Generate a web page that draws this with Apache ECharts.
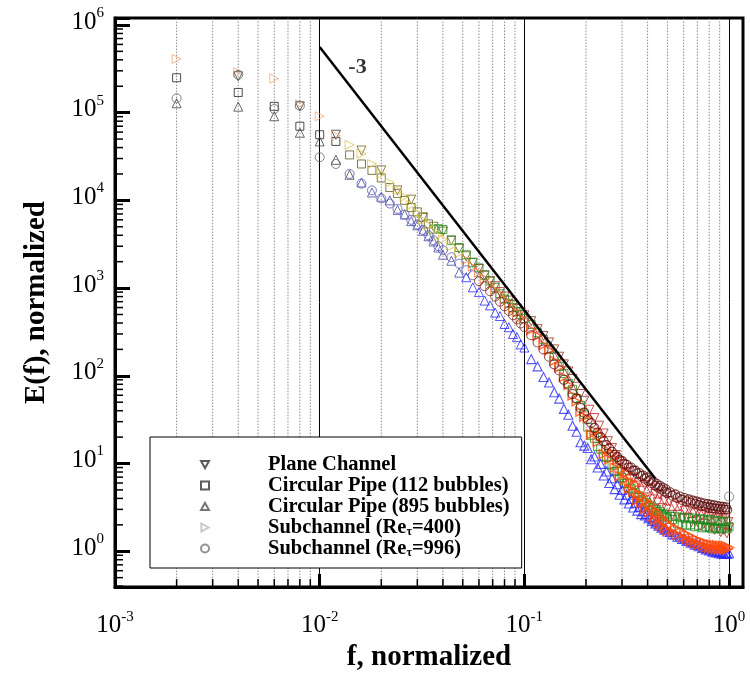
<!DOCTYPE html>
<html><head><meta charset="utf-8">
<script src="https://cdn.jsdelivr.net/npm/echarts@6/dist/echarts.min.js"></script>
<style>html,body{margin:0;padding:0;background:#fff}#c{width:750px;height:677px}</style>
</head><body><div id="c"></div>
<script>
// ---------------- data ----------------
const seriesNames = ['Plane Channel', 'Circular Pipe (112 bubbles)', 'Circular Pipe (895 bubbles)', 'Subchannel (Reτ=400)', 'Subchannel (Reτ=996)'];

// shared frequency grid (normalized f) for the pipe and subchannel data
const freq = [
  0.002,0.004,0.006,0.008,0.010,0.012,0.014,0.016,0.018,0.020,
  0.022,0.024,0.026,0.028,0.030,0.032,0.034,0.036,0.038,0.040,
  0.044,0.048,0.052,0.056,0.060,0.064,0.068,0.072,0.076,0.080,
  0.084,0.088,0.092,0.096,0.100,0.108,0.116,0.124,0.132,0.140,
  0.148,0.156,0.164,0.172,0.180,0.188,0.196,
  0.204,0.212,0.220,0.228,0.236,0.244,0.252,0.260,0.268,0.276,
  0.284,0.292,0.300,0.308,0.316,0.324,0.332,0.340,0.348,0.356,
  0.364,0.372,0.380,0.388,0.396,0.404,0.412,0.420,0.428,0.436,
  0.444,0.452,0.460,0.468,0.476,0.484,0.492,0.500,0.515,0.530,
  0.545,0.560,0.575,0.590,0.605,0.620,0.635,0.650,0.665,0.680,
  0.695,0.710,0.725,0.740,0.755,0.770,0.785,0.800,0.815,0.830,
  0.845,0.860,0.875,0.890,0.905,0.920,0.935,0.950,0.965,0.980,
  1.000
];
const pipe112 = [
  2.5e5,1.7e5,1.18e5,7.0e4,5.6e4,4.7e4,3.3e4,2.6e4,2.2e4,1.8e4,
  1.4e4,1.2e4,1.0e4,8.3e3,7.4e3,6.4e3,5.4e3,4.7e3,4.75e3,4.65e3,
  3.5e3,2.9e3,2.4e3,1.95e3,1.7e3,1.4e3,1.2e3,1.02e3,860,750,
  670,600,540,500,450,385,310,260,200,168,
  128,106,82,70,55,46,36,
  26,21,19.4,15.6,14.6,12.1,11.7,9.8,9.6,8.1,
  8.2,6.8,6.9,5.9,6.0,5.1,5.25,4.55,4.65,4.1,
  4.25,3.72,3.85,3.42,3.58,3.18,3.35,3.0,3.12,2.82,
  2.98,2.7,2.84,2.58,2.7,2.48,2.6,2.4,2.5,2.3,
  2.5,2.05,2.4,2.0,2.45,1.95,2.35,2.0,2.4,1.9,
  2.3,1.95,2.35,1.85,2.3,1.9,2.25,1.85,2.3,1.8,
  2.2,1.85,2.25,1.8,2.2,1.8,2.15,1.85,2.2,1.8,
  1.9
];
const pipe895 = [
  1.28e5,1.17e5,9.1e4,5.9e4,4.7e4,2.9e4,1.96e4,1.6e4,1.23e4,1.1e4,
  1.0e4,7.8e3,6.9e3,5.8e3,5.2e3,4.5e3,3.9e3,3.4e3,2.9e3,2.4e3,
  2.05e3,1.5e3,1.33e3,1.02e3,900,720,635,525,480,390,
  358,300,276,228,210,155,128,97,84,65,
  55,42,36,27,23,17.5,16,
  15.0,11.2,12.0,9.0,9.9,7.3,8.1,6.0,6.8,5.1,
  5.8,4.4,5.0,3.9,4.4,3.5,3.95,3.15,3.55,2.9,
  3.2,2.65,2.85,2.55,2.65,2.38,2.45,2.22,2.3,2.08,
  2.15,1.96,2.02,1.86,1.9,1.76,1.8,1.68,1.66,1.55,
  1.56,1.46,1.47,1.38,1.4,1.31,1.33,1.25,1.27,1.19,
  1.22,1.14,1.17,1.09,1.12,1.05,1.08,1.02,1.05,0.99,
  1.02,0.97,1.0,0.95,0.99,0.94,0.97,0.93,0.96,0.93,
  0.95
];
const sub400 = [
  4.1e5,2.9e5,2.45e5,1.25e5,9.1e4,5.5e4,4.3e4,3.4e4,2.6e4,2.0e4,
  1.6e4,1.3e4,1.1e4,8.8e3,7.2e3,6.0e3,5.2e3,4.5e3,4.0e3,3.6e3,
  3.0e3,2.5e3,2.1e3,1.75e3,1.5e3,1.28e3,1.1e3,960,840,740,
  660,570,530,460,430,335,285,225,195,148,
  125,97,79,60,51,39,34,
  33,21.5,23.6,17.7,20.7,12.8,14.3,11.2,12.9,9.0,
  11.0,7.2,8.7,6.5,7.8,5.2,6.2,4.8,5.8,3.8,
  4.5,3.55,4.3,3.05,3.7,2.8,3.4,2.48,3.0,2.3,
  2.77,2.07,2.49,1.96,2.35,1.83,2.17,1.72,2.0,1.66,
  1.84,1.54,1.73,1.44,1.6,1.37,1.52,1.3,1.42,1.23,
  1.36,1.19,1.3,1.15,1.26,1.11,1.22,1.09,1.2,1.07,
  1.18,1.06,1.17,1.05,1.16,1.05,1.16,1.05,1.15,1.05,
  1.1
];
const sub996 = [
  1.46e5,2.7e5,1.1e5,1.2e5,3.1e4,2.6e4,2.0e4,1.55e4,1.3e4,1.05e4,
  9.2e3,8.0e3,6.9e3,6.0e3,5.3e3,4.6e3,4.0e3,3.5e3,3.0e3,2.7e3,
  2.25e3,1.9e3,1.6e3,1.4e3,1.2e3,1.05e3,920,800,700,620,
  550,490,440,395,360,290,240,200,165,135,
  115,90,79,62,55,43,38,
  32,29,25.5,22.5,20,18,16.2,14.8,13.6,12.6,
  11.9,11.0,10.7,9.9,9.7,9.0,9.0,8.3,8.3,7.7,
  7.8,7.2,7.3,6.7,6.9,6.3,6.5,5.95,6.2,5.6,
  5.85,5.3,5.55,5.05,5.3,4.8,5.05,4.6,4.7,4.3,
  4.45,4.05,4.2,3.85,4.05,3.7,3.9,3.58,3.78,3.48,
  3.68,3.38,3.58,3.28,3.5,3.2,3.44,3.14,3.38,3.1,
  3.33,3.06,3.28,3.03,3.24,3.0,3.2,2.98,3.16,2.97,
  4.2
];
// plane channel has its own (coarser) frequency grid
const planeFreq = [
  0.004,0.008,0.012,0.016,0.020,0.024,0.028,0.032,0.036,0.040,
  0.044,0.048,0.052,0.056,0.060,0.064,0.068,0.072,0.076,0.080,
  0.084,0.088,0.092,0.096,0.100,0.108,0.116,0.124,0.132,0.140,
  0.148,0.156,0.164,0.172,0.180,0.188,0.196,0.208,0.220,0.232,
  0.244,0.256,0.268,0.280,0.292,0.304,0.316,0.328,0.340,0.352,
  0.364,0.376,0.388,0.400,0.412,0.424,0.436,0.448,0.460,0.472,
  0.484,0.496,0.512,0.528,0.544,0.560,0.576,0.592,0.608,0.624,
  0.640,0.656,0.672,0.688,0.704,0.720,0.736,0.752,0.768,0.784,
  0.800,0.816,0.832,0.848,0.864,0.880,0.896,0.912,0.928,0.944,
  0.960,0.976,0.992,1.000
];
const plane = [
  2.6e5,1.18e5,5.6e4,3.7e4,2.2e4,1.3e4,1.02e4,6.4e3,5.0e3,4.4e3,
  3.5e3,2.8e3,2.3e3,1.95e3,1.65e3,1.4e3,1.2e3,1.05e3,900,800,
  720,640,580,530,490,420,340,285,240,200,
  165,135,112,92,75,62,52,41,33,27,
  22,18,15,12.5,10.5,8.8,8.0,6.6,6.9,5.6,
  6.0,4.9,5.7,4.1,5.2,3.9,4.5,3.6,4.4,3.1,
  3.8,3.0,3.7,2.6,3.3,2.6,3.25,2.35,2.9,2.4,
  3.0,2.15,2.7,2.2,2.8,1.95,2.6,2.05,2.65,1.85,
  2.45,1.9,2.6,1.75,2.35,1.8,2.5,1.65,2.25,1.75,
  2.4,1.6,2.15,1.85
];
// -3 slope reference line (end points) and its label
const slopeLine = [[0.01, 5.6e5], [0.437, 6.7]];
const slopeLabel = [[0.0153, 3.3e5]];
const slopeText = '-3';
// minor tick / grid positions
const xMinor = [0.002,0.003,0.004,0.005,0.006,0.007,0.008,0.009,
  0.02,0.03,0.04,0.05,0.06,0.07,0.08,0.09,
  0.2,0.3,0.4,0.5,0.6,0.7,0.8,0.9];
const yMinor = [0.4,0.5,0.6,0.7,0.8,0.9,
  2,3,4,5,6,7,8,9, 20,30,40,50,60,70,80,90,
  200,300,400,500,600,700,800,900, 2000,3000,4000,5000,6000,7000,8000,9000,
  2e4,3e4,4e4,5e4,6e4,7e4,8e4,9e4, 2e5,3e5,4e5,5e5,6e5,7e5,8e5,9e5];
const X_MIN = 0.001, X_MAX = 1.17, Y_MIN = 0.39, Y_MAX = 1.2e6;

// ---------------- styles ----------------
const FONT = 'Liberation Serif';
const bands = [
  [[0.013,'#333333'],[0.06,'#6e6418'],[0.2,'#9c2a1c'],[9,'#c8201e']],
  [[0.013,'#222222'],[0.035,'#5c5c14'],[9,'#1e8a1e']],
  [[0.015,'#444444'],[0.05,'#4848a8'],[9,'#2828ff']],
  [[0.013,'#f0a878'],[0.05,'#dcc048'],[0.1,'#f07a2a'],[9,'#ff4a0a']],
  [[0.013,'#666666'],[0.06,'#5a5ab4'],[0.15,'#7a2424'],[0.99,'#5a0c0c'],[9,'#808080']]
];
const legendColors = ['#333333','#333333','#555555','#bbbbbb','#777777'];
const borderWidths = [1, 1, 1.1, 1.4, 1.1];
const symbols = [['triangle',180],['rect',0],['triangle',0],['triangle',-90],['circle',0]];
const legendIcons = ['path://M0,0L10,0L5,9Z','path://M0,0L10,0L10,10L0,10Z','path://M5,0L10,9L0,9Z','path://M0,0L9,5L0,10Z','circle'];
const colorAt = (b, f) => { for (const [lim, c] of b) if (f < lim) return c; return b[b.length-1][1]; };

const raw = [[planeFreq, plane],[freq, pipe112],[freq, pipe895],[freq, sub400],[freq, sub996]];
const scatterSeries = raw.map(([fs, vs], k) => ({
  type: 'scatter', name: seriesNames[k],
  symbol: symbols[k][0], symbolRotate: symbols[k][1], symbolSize: k===1 ? 8 : 9,
  itemStyle: { color: 'rgba(0,0,0,0)', borderColor: legendColors[k], borderWidth: 1 },
  z: 3, silent: true,
  data: fs.map((f, i) => ({ value: [f, vs[i]],
    itemStyle: { borderColor: colorAt(bands[k], f), borderWidth: f > 0.1 ? borderWidths[k] : 1 } }))
}));

const supLabel = v => {
  const l = Math.log10(v), e = Math.round(l);
  if (Math.abs(l - e) > 1e-6) return '';
  return '{b|10}{s|' + e + '}';
};
const labRich = {
  b: { fontFamily: FONT, fontSize: 25, color: '#000' },
  s: { fontFamily: FONT, fontSize: 15, color: '#000', padding: [0,0,18,0] }
};

const option = {
  animation: false,
  backgroundColor: '#fff',
  grid: { left: 115, right: 7, top: 18, bottom: 84, show: true, borderColor: '#000', borderWidth: 3, backgroundColor: 'rgba(0,0,0,0)' },
  legend: {
    orient: 'vertical', left: 150, top: 437,
    padding: [17, 12, 9, 50], itemGap: 0, itemWidth: 8, itemHeight: 8,
    backgroundColor: '#fff', borderColor: '#000', borderWidth: 1,
    selectedMode: false,
    data: seriesNames.map((n, k) => ({ name: n, icon: legendIcons[k] })),
    formatter: n => '{g|}{t|' + n.replace('τ', '}{u|τ}{t|') + '}',
    textStyle: {
      rich: {
        g: { width: 54 },
        t: { fontFamily: FONT, fontWeight: 'bold', fontSize: 20.5, lineHeight: 21.3, color: '#000' },
        u: { fontFamily: FONT, fontWeight: 'bold', fontSize: 12, lineHeight: 21.3, color: '#000', padding: [9,0,0,0] }
      }
    }
  },
  xAxis: {
    type: 'log', logBase: 10, min: X_MIN, max: X_MAX,
    axisLine: { show: true, lineStyle: { color: '#000', width: 3 } },
    axisTick: { show: true, inside: true, length: 13, lineStyle: { color: '#000', width: 3 } },
    axisLabel: { formatter: supLabel, rich: labRich, margin: 22, showMinLabel: true, showMaxLabel: false },
    splitLine: { show: true, lineStyle: { color: '#000', width: 1 } },
    name: 'f, normalized', nameLocation: 'middle', nameGap: 50,
    nameTextStyle: { fontFamily: FONT, fontWeight: 'bold', fontSize: 29, color: '#000' }
  },
  yAxis: {
    type: 'log', logBase: 10, min: Y_MIN, max: Y_MAX,
    axisLine: { show: true, lineStyle: { color: '#000', width: 3 } },
    axisTick: { show: true, inside: true, length: 15, lineStyle: { color: '#000', width: 3 } },
    axisLabel: { formatter: supLabel, rich: labRich, margin: 11, padding: [0,0,6,0] },
    splitLine: { show: false },
    name: 'E(f), normalized', nameLocation: 'middle', nameGap: 64,
    nameTextStyle: { fontFamily: FONT, fontWeight: 'bold', fontSize: 29, color: '#000' }
  },
  series: [
    { // minor dotted grid lines
      type: 'custom', silent: true, z: 1,
      data: xMinor.map(v => [v, Y_MIN]),
      renderItem: (p, api) => {
        const a = api.coord([api.value(0), Y_MIN]), b = api.coord([api.value(0), Y_MAX]);
        return { type: 'line', shape: { x1: a[0], y1: a[1], x2: b[0], y2: b[1] },
          style: { stroke: '#8a8a8a', lineWidth: 1, lineDash: [1.5, 1.5] } };
      }
    },
    { // minor ticks, bottom axis
      type: 'custom', silent: true, z: 6,
      data: xMinor.map(v => [v, Y_MIN]),
      renderItem: (p, api) => {
        const a = api.coord([api.value(0), Y_MIN]);
        return { type: 'line', shape: { x1: a[0], y1: a[1], x2: a[0], y2: a[1] - 8 },
          style: { stroke: '#000', lineWidth: 1.5 } };
      }
    },
    { // minor ticks, left axis
      type: 'custom', silent: true, z: 6,
      data: yMinor.map(v => [X_MIN, v]),
      renderItem: (p, api) => {
        const a = api.coord([X_MIN, api.value(1)]);
        return { type: 'line', shape: { x1: a[0], y1: a[1], x2: a[0] + 8, y2: a[1] },
          style: { stroke: '#000', lineWidth: 1.5 } };
      }
    },
    ...scatterSeries,
    { type: 'line', data: slopeLine, symbol: 'none', silent: true, z: 4,
      lineStyle: { color: '#000', width: 2.5 } },
    { type: 'scatter', data: slopeLabel, symbolSize: 1, silent: true, z: 4,
      itemStyle: { color: 'rgba(0,0,0,0)' },
      label: { show: true, position: 'inside', formatter: slopeText,
        fontFamily: FONT, fontWeight: 'bold', fontSize: 22, color: '#000' } }
  ]
};
const chart = echarts.init(document.getElementById('c'), null, { renderer: 'canvas' });
chart.setOption(option);
</script>
</body></html>
